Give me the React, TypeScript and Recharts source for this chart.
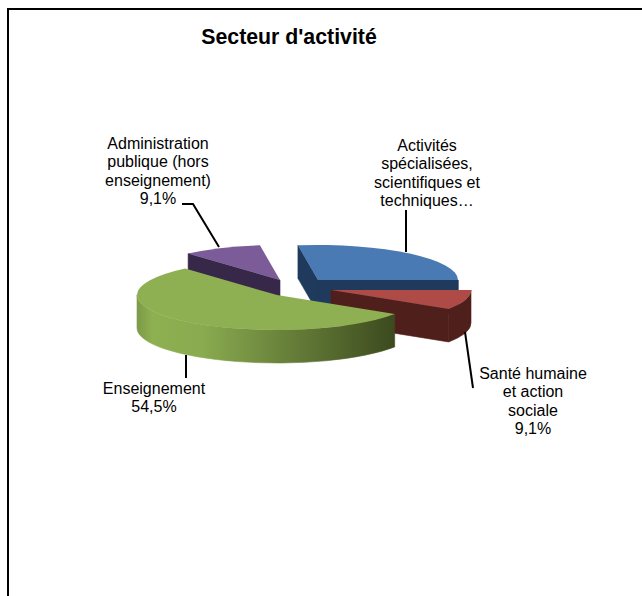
import { Pie, PieChart } from 'recharts';

const names = ['Administration', 'Activités', 'Santé', 'Enseignement'];
const values = [9.1, 27.3, 9.1, 54.5];
const labelLines = [
  ['Administration', 'publique (hors', 'enseignement)', '9,1%'],
  ['Activités', 'spécialisées,', 'scientifiques et', 'techniques…'],
  ['Santé humaine', 'et action', 'sociale', '9,1%'],
  ['Enseignement', '54,5%'],
];

const data = names.map((name, i) => ({ name, value: values[i] }));

const TOP_COLORS = ['#7c5c98', '#4a7ab3', '#ae4b47', '#8fb052'];
const WALL_COLORS = ['#37284a', '#1f3a5c', '#4f1f1c', 'url(#greenRim)'];
// slice explosion, in pixels from the pie centre
const OFFSETS = [[-10, -12], [28, -12], [41, -2], [-13, 3]];
// label block centre x, first line centre y, leader line points
const LABEL_POS = [
  { x: 158, y: 143, line: '182,204 193,204 219,247' },
  { x: 427, y: 145, line: '406,210 406,252' },
  { x: 533, y: 373, line: '465,332 473,388' },
  { x: 154, y: 388, line: '186,355 186,378' },
];

const TILT = 0.25;
const DEPTH = 33;
const LINE_HEIGHT = 18.5;

function Slice3D(props: any) {
  const { cx, cy, outerRadius, startAngle, endAngle, index } = props;
  const i = index ?? names.indexOf(props.name);
  const ox = cx + OFFSETS[i][0];
  const oy = cy + OFFSETS[i][1];
  const rx = outerRadius;
  const ry = outerRadius * TILT;
  const pt = (deg: number, dy = 0) => {
    const a = (deg * Math.PI) / 180;
    return `${ox + rx * Math.cos(a)} ${oy - ry * Math.sin(a) + dy}`;
  };
  const cutFace = (deg: number) =>
    `M${ox} ${oy}L${pt(deg)}L${pt(deg, DEPTH)}L${ox} ${oy + DEPTH}Z`;
  const large = startAngle - endAngle > 180 ? 1 : 0;
  const rimFrom = Math.min(startAngle, 0);
  const rimTo = Math.max(endAngle, -180);
  const wall = WALL_COLORS[i];
  const flatWall = i === 3 ? '#3c4a1e' : wall;

  return (
    <g>
      {Math.cos((startAngle * Math.PI) / 180) < 0 && (
        <path d={cutFace(startAngle)} fill={flatWall} stroke={flatWall} strokeWidth={0.6} />
      )}
      {Math.cos((endAngle * Math.PI) / 180) > 0 && (
        <path d={cutFace(endAngle)} fill={flatWall} stroke={flatWall} strokeWidth={0.6} />
      )}
      {rimFrom > rimTo && (
        <path
          d={`M${pt(rimFrom)}A${rx} ${ry} 0 0 1 ${pt(rimTo)}L${pt(rimTo, DEPTH)}A${rx} ${ry} 0 0 0 ${pt(rimFrom, DEPTH)}Z`}
          fill={wall}
          stroke={wall}
          strokeWidth={0.6}
        />
      )}
      <path
        d={`M${ox} ${oy}L${pt(startAngle)}A${rx} ${ry} 0 ${large} 1 ${pt(endAngle)}Z`}
        fill={TOP_COLORS[i]}
      />
    </g>
  );
}

function SliceLabel(props: any) {
  const i = props.index;
  const pos = LABEL_POS[i];
  return (
    <g>
      <polyline points={pos.line} fill="none" stroke="#000" strokeWidth={2} />
      <text
        x={pos.x}
        textAnchor="middle"
        fontFamily="Liberation Sans"
        fontSize={16}
        fill="#000"
      >
        {labelLines[i].map((t, k) => (
          <tspan key={k} x={pos.x} y={pos.y + k * LINE_HEIGHT} dominantBaseline="central">
            {t}
          </tspan>
        ))}
      </text>
    </g>
  );
}

export default function App() {
  return (
    <div style={{ position: 'absolute', left: 0, top: 0, width: 642, height: 596, overflow: 'hidden', background: '#fff' }}>
      <div
        style={{
          position: 'absolute',
          left: 7,
          top: 8,
          width: 660,
          height: 620,
          border: '2px solid #000',
        }}
      />
      <div
        style={{
          position: 'absolute',
          left: 169,
          top: 24,
          width: 240,
          textAlign: 'center',
          fontFamily: 'Liberation Sans',
          fontWeight: 'bold',
          fontSize: 21.3,
          lineHeight: '26px',
          color: '#000',
        }}
      >
        Secteur d'activité
      </div>
      <div style={{ position: 'absolute', left: 0, top: 0 }}>
        <PieChart width={642} height={596} margin={{ top: 0, right: 0, bottom: 0, left: 0 }}>
          <defs>
            <linearGradient id="greenRim" x1="0" y1="0" x2="1" y2="0">
              <stop offset="0" stopColor="#7d9a48" />
              <stop offset="0.06" stopColor="#8db050" />
              <stop offset="0.25" stopColor="#8aab50" />
              <stop offset="1" stopColor="#3c4a1e" />
            </linearGradient>
          </defs>
          <Pie
            data={data}
            dataKey="value"
            nameKey="name"
            cx={290}
            cy={292}
            outerRadius={140}
            startAngle={131}
            endAngle={-229}
            stroke="none"
            shape={Slice3D}
            label={SliceLabel}
            labelLine={false}
            isAnimationActive={false}
          />
        </PieChart>
      </div>
    </div>
  );
}
